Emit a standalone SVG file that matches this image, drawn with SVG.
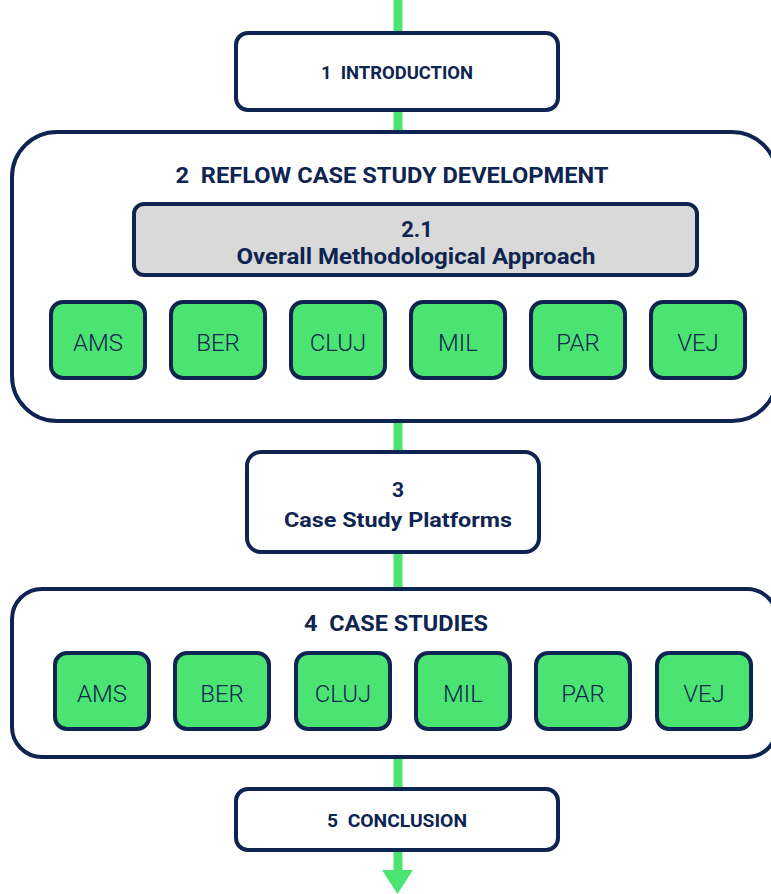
<svg xmlns="http://www.w3.org/2000/svg" width="771" height="894" viewBox="0 0 771 894">
<style>
.box{fill:#fff;stroke:#0e2451;stroke-width:4}
.grey{fill:#d9d9d9;stroke:#0e2451;stroke-width:4}
.city{fill:#4be472;stroke:#0e2451;stroke-width:4}
.t{font-family:Roboto,"Liberation Sans",sans-serif;font-weight:bold;fill:#0e2451;text-anchor:middle;white-space:pre}
.c{font-family:Roboto,"Liberation Sans",sans-serif;font-weight:300;fill:#0e2451;text-anchor:middle;font-size:24px}
.link{stroke:#4be472;stroke-width:9;fill:none}
</style>
<rect width="771" height="894" fill="#fff"/>
<g id="connectors">
<line class="link" x1="398" y1="0" x2="398" y2="872"/>
<polygon points="382,870 413,870 397.5,894" fill="#4be472"/>
</g>
<g id="n1">
<rect class="box" x="236" y="33" width="322" height="77" rx="12"/>
<text class="t" xml:space="preserve" x="397" y="79" font-size="19" textLength="152" lengthAdjust="spacingAndGlyphs">1  INTRODUCTION</text>
</g>
<g id="n2">
<rect class="box" x="12" y="132" width="765" height="289" rx="45"/>
<text class="t" xml:space="preserve" x="392" y="183" font-size="22.5" textLength="433" lengthAdjust="spacingAndGlyphs">2  REFLOW CASE STUDY DEVELOPMENT</text>
</g>
<g id="n2_1">
<rect class="grey" x="134" y="204" width="563" height="71" rx="10"/>
<text class="t" x="417" y="237" font-size="22">2.1</text>
<text class="t" x="416" y="264" font-size="22" textLength="359" lengthAdjust="spacingAndGlyphs">Overall Methodological Approach</text>
</g>
<g id="n2_ams"><rect class="city" x="51" y="302" width="94" height="76" rx="12"/><text class="c" x="98" y="351">AMS</text></g>
<g id="n2_ber"><rect class="city" x="171" y="302" width="94" height="76" rx="12"/><text class="c" x="218" y="351">BER</text></g>
<g id="n2_cluj"><rect class="city" x="291" y="302" width="94" height="76" rx="12"/><text class="c" x="338" y="351">CLUJ</text></g>
<g id="n2_mil"><rect class="city" x="411" y="302" width="94" height="76" rx="12"/><text class="c" x="458" y="351">MIL</text></g>
<g id="n2_par"><rect class="city" x="531" y="302" width="94" height="76" rx="12"/><text class="c" x="578" y="351">PAR</text></g>
<g id="n2_vej"><rect class="city" x="651" y="302" width="94" height="76" rx="12"/><text class="c" x="698" y="351">VEJ</text></g>
<g id="n3">
<rect class="box" x="247" y="452" width="292" height="100" rx="14"/>
<text class="t" x="398" y="497" font-size="21">3</text>
<text class="t" x="398" y="527" font-size="21" textLength="228" lengthAdjust="spacingAndGlyphs">Case Study Platforms</text>
</g>
<g id="n4">
<rect class="box" x="12" y="589" width="765" height="168" rx="30"/>
<text class="t" xml:space="preserve" x="396" y="631" font-size="22.5" textLength="184" lengthAdjust="spacingAndGlyphs">4  CASE STUDIES</text>
</g>
<g id="n4_ams"><rect class="city" x="55" y="653" width="94" height="76" rx="12"/><text class="c" x="102" y="702">AMS</text></g>
<g id="n4_ber"><rect class="city" x="175" y="653" width="94" height="76" rx="12"/><text class="c" x="222" y="702">BER</text></g>
<g id="n4_cluj"><rect class="city" x="296" y="653" width="94" height="76" rx="12"/><text class="c" x="343" y="702">CLUJ</text></g>
<g id="n4_mil"><rect class="city" x="416" y="653" width="94" height="76" rx="12"/><text class="c" x="463" y="702">MIL</text></g>
<g id="n4_par"><rect class="city" x="536" y="653" width="94" height="76" rx="12"/><text class="c" x="583" y="702">PAR</text></g>
<g id="n4_vej"><rect class="city" x="657" y="653" width="94" height="76" rx="12"/><text class="c" x="704" y="702">VEJ</text></g>
<g id="n5">
<rect class="box" x="236" y="789" width="322" height="61" rx="12"/>
<text class="t" xml:space="preserve" x="397" y="827" font-size="19" textLength="140" lengthAdjust="spacingAndGlyphs">5  CONCLUSION</text>
</g>
</svg>
